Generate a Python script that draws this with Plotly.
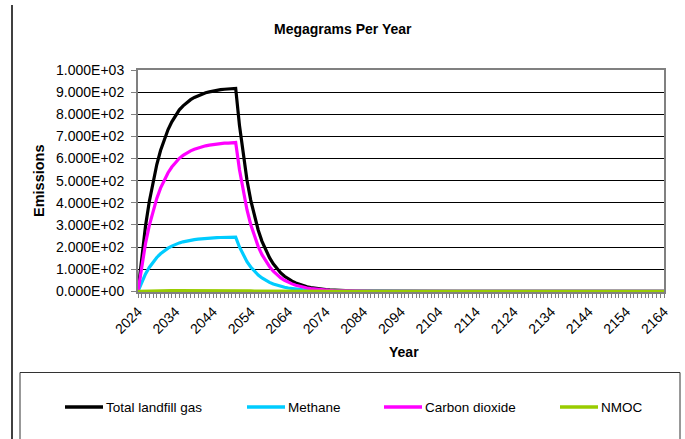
import plotly.graph_objects as go

# ---------------- data ----------------
years = list(range(2024, 2165))

total_landfill_gas = [
    0, 160, 295, 405, 497, 573, 636, 688, 731, 766,            # 2024-2033
    795, 820, 838, 854, 866, 876, 884, 891, 897, 901,          # 2034-2043
    905, 908, 911, 913, 914, 916, 917, 751, 615, 503,          # 2044-2053
    412, 337, 276, 226, 185, 152, 124, 102, 83, 68,            # 2054-2063
    56, 46, 37.5, 30.7, 25.2, 20.6, 16.9, 13.8, 11.3, 9.3,     # 2064-2073
    7.6, 6.2, 5.1, 4.2, 3.4, 2.8, 2.3, 1.9, 1.5, 1.2,          # 2074-2083
    1.0, 0.84, 0.69, 0.56, 0.46, 0.38, 0.31, 0.25, 0.21, 0.17, # 2084-2093
    0.14, 0.11, 0.09, 0.08, 0.06, 0.05, 0.04, 0.03, 0.03, 0.02,# 2094-2103
    0.02, 0.02, 0.01, 0.01, 0.01, 0.01, 0.01, 0, 0, 0,         # 2104-2113
    0, 0, 0, 0, 0, 0, 0, 0, 0, 0,                              # 2114-2123
    0, 0, 0, 0, 0, 0, 0, 0, 0, 0,                              # 2124-2133
    0, 0, 0, 0, 0, 0, 0, 0, 0, 0,                              # 2134-2143
    0, 0, 0, 0, 0, 0, 0, 0, 0, 0,                              # 2144-2153
    0, 0, 0, 0, 0, 0, 0, 0, 0, 0,                              # 2154-2163
    0,                                                         # 2164
]

methane = [
    0, 42.7, 78.8, 108.1, 132.7, 153.0, 169.8, 183.7, 195.2, 204.5,
    212.3, 218.9, 223.7, 228.0, 231.2, 233.9, 236.0, 237.9, 239.5, 240.6,
    241.6, 242.4, 243.2, 243.8, 244.0, 244.6, 244.8, 200.5, 164.2, 134.3,
    110.0, 90.0, 73.7, 60.3, 49.4, 40.6, 33.1, 27.2, 22.2, 18.2,
    15.0, 12.3, 10.0, 8.2, 6.7, 5.5, 4.5, 3.7, 3.0, 2.5,
    2.0, 1.66, 1.36, 1.12, 0.91, 0.75, 0.61, 0.51, 0.40, 0.32,
    0.27, 0.22, 0.18, 0.15, 0.12, 0.10, 0.08, 0.07, 0.06, 0.05,
    0.04, 0.03, 0.02, 0.02, 0.02, 0.01, 0.01, 0.01, 0.01, 0.01,
    0.01, 0, 0, 0, 0, 0, 0, 0, 0, 0,
    0, 0, 0, 0, 0, 0, 0, 0, 0, 0,
    0, 0, 0, 0, 0, 0, 0, 0, 0, 0,
    0, 0, 0, 0, 0, 0, 0, 0, 0, 0,
    0, 0, 0, 0, 0, 0, 0, 0, 0, 0,
    0, 0, 0, 0, 0, 0, 0, 0, 0, 0,
    0,
]

carbon_dioxide = [
    0, 117.3, 216.2, 296.9, 364.3, 420.0, 466.2, 504.3, 535.8, 561.5,
    582.7, 601.1, 614.3, 626.0, 634.8, 642.1, 648.0, 653.1, 657.5, 660.4,
    663.4, 665.6, 667.8, 669.2, 670.0, 671.4, 672.2, 550.5, 450.8, 368.7,
    302.0, 247.0, 202.3, 165.7, 135.6, 111.4, 90.9, 74.8, 60.8, 49.8,
    41.0, 33.7, 27.5, 22.5, 18.5, 15.1, 12.4, 10.1, 8.3, 6.8,
    5.6, 4.54, 3.74, 3.08, 2.49, 2.05, 1.69, 1.39, 1.10, 0.88,
    0.73, 0.62, 0.51, 0.41, 0.34, 0.28, 0.23, 0.18, 0.15, 0.12,
    0.10, 0.08, 0.07, 0.06, 0.04, 0.04, 0.03, 0.02, 0.02, 0.01,
    0.01, 0.01, 0.01, 0.01, 0.01, 0.01, 0, 0, 0, 0,
    0, 0, 0, 0, 0, 0, 0, 0, 0, 0,
    0, 0, 0, 0, 0, 0, 0, 0, 0, 0,
    0, 0, 0, 0, 0, 0, 0, 0, 0, 0,
    0, 0, 0, 0, 0, 0, 0, 0, 0, 0,
    0, 0, 0, 0, 0, 0, 0, 0, 0, 0,
    0,
]

nmoc = [
    0, 0.7, 1.3, 1.7, 2.1, 2.5, 2.7, 3.0, 3.1, 3.3,
    3.4, 3.5, 3.6, 3.7, 3.7, 3.8, 3.8, 3.8, 3.9, 3.9,
    3.9, 3.9, 3.9, 3.9, 3.9, 3.9, 3.9, 3.2, 2.6, 2.2,
    1.8, 1.4, 1.2, 1.0, 0.8, 0.65, 0.53, 0.44, 0.36, 0.29,
    0.24, 0.20, 0.16, 0.13, 0.11, 0.09, 0.07, 0.06, 0.05, 0.04,
    0.03, 0.03, 0.02, 0.02, 0.01, 0.01, 0.01, 0, 0, 0,
    0, 0, 0, 0, 0, 0, 0, 0, 0, 0,
    0, 0, 0, 0, 0, 0, 0, 0, 0, 0,
    0, 0, 0, 0, 0, 0, 0, 0, 0, 0,
    0, 0, 0, 0, 0, 0, 0, 0, 0, 0,
    0, 0, 0, 0, 0, 0, 0, 0, 0, 0,
    0, 0, 0, 0, 0, 0, 0, 0, 0, 0,
    0, 0, 0, 0, 0, 0, 0, 0, 0, 0,
    0, 0, 0, 0, 0, 0, 0, 0, 0, 0,
    0,
]

series_names = ["Total landfill gas", "Methane", "Carbon dioxide", "NMOC"]
series_colors = ["#000000", "#00CCFF", "#FF00FF", "#99CC00"]

x_tick_values = [2024, 2034, 2044, 2054, 2064, 2074, 2084, 2094,
                 2104, 2114, 2124, 2134, 2144, 2154, 2164]
y_tick_values = [0, 100, 200, 300, 400, 500, 600, 700, 800, 900, 1000]
y_tick_labels = ["0.000E+00", "1.000E+02", "2.000E+02", "3.000E+02",
                 "4.000E+02", "5.000E+02", "6.000E+02", "7.000E+02",
                 "8.000E+02", "9.000E+02", "1.000E+03"]

chart_title = "Megagrams Per Year"
x_title = "Year"
y_title = "Emissions"

# ---------------- layout geometry (pixels) ----------------
W, H = 685, 439
PL, PR, PT, PB = 138, 664, 70, 292   # plot area edges

def px(xp):
    return (xp - PL) / (PR - PL)

def py(yp):
    return (PB - yp) / (PB - PT)

FONT = "Liberation Sans, Arial, sans-serif"

all_series = [total_landfill_gas, methane, carbon_dioxide, nmoc]
for s in all_series:
    assert len(s) == len(years), len(s)

fig = go.Figure()
for name, vals, col in zip(series_names, all_series, series_colors):
    fig.add_trace(go.Scatter(
        x=years, y=vals, mode="lines", name=name,
        line=dict(color=col, width=3.2), showlegend=False,
        hoverinfo="x+y+name",
    ))

shapes = []
annotations = []

# left border line of chart area
shapes.append(dict(type="line", xref="paper", yref="paper",
                   x0=px(12), x1=px(12), y0=py(5), y1=py(445),
                   line=dict(color="#000000", width=1.5)))
# legend box
shapes.append(dict(type="rect", xref="paper", yref="paper",
                   x0=px(20), x1=px(680), y0=py(372.5), y1=py(450),
                   line=dict(color="#333333", width=1), fillcolor="rgba(0,0,0,0)"))

legend_y = 407
legend_pos = [(65, 103), (247, 285), (384, 422), (560, 598)]
for (x0, x1), name, col in zip(legend_pos, series_names, series_colors):
    shapes.append(dict(type="line", xref="paper", yref="paper",
                       x0=px(x0), x1=px(x1), y0=py(legend_y), y1=py(legend_y),
                       line=dict(color=col, width=3.5)))
    annotations.append(dict(xref="paper", yref="paper", x=px(x1 + 1), y=py(legend_y),
                            text=name, showarrow=False, xanchor="left", yanchor="middle",
                            font=dict(family=FONT, size=13.5, color="#000000")))

annotations.append(dict(xref="paper", yref="paper", x=px(343), y=py(29),
                        text="<b>%s</b>" % chart_title, showarrow=False,
                        xanchor="center", yanchor="middle",
                        font=dict(family=FONT, size=14, color="#000000")))
annotations.append(dict(xref="paper", yref="paper", x=px(404), y=py(352),
                        text="<b>%s</b>" % x_title, showarrow=False,
                        xanchor="center", yanchor="middle",
                        font=dict(family=FONT, size=14, color="#000000")))
annotations.append(dict(xref="paper", yref="paper", x=px(39), y=py(181),
                        text="<b>%s</b>" % y_title, showarrow=False, textangle=-90,
                        xanchor="center", yanchor="middle",
                        font=dict(family=FONT, size=14.5, color="#000000")))

fig.update_layout(
    width=W, height=H,
    margin=dict(l=PL, r=W - PR, t=PT, b=H - PB, pad=0),
    paper_bgcolor="#FFFFFF", plot_bgcolor="#FFFFFF",
    font=dict(family=FONT, size=14, color="#000000"),
    shapes=shapes, annotations=annotations,
    showlegend=False,
)

fig.update_xaxes(
    range=[2024, 2164], tickmode="array", tickvals=x_tick_values,
    ticktext=[str(v) for v in x_tick_values], tickangle=-45,
    tickfont=dict(family=FONT, size=14, color="#000000"),
    ticks="outside", ticklen=4, tickwidth=1, tickcolor="#808080",
    minor=dict(dtick=1, tick0=2024, ticks="outside", ticklen=4, tickwidth=1,
               tickcolor="#808080", showgrid=False),
    showgrid=False, zeroline=False,
    showline=True, mirror=True, linecolor="#808080", linewidth=2,
    layer="below traces",
)
fig.update_yaxes(
    range=[-3, 1000], tickmode="array", tickvals=y_tick_values,
    ticktext=y_tick_labels, ticklabelstandoff=4,
    tickfont=dict(family=FONT, size=14, color="#000000"),
    ticks="outside", ticklen=5, tickwidth=1, tickcolor="#808080",
    showgrid=True, gridcolor="#000000", gridwidth=1, zeroline=False,
    showline=True, mirror=True, linecolor="#808080", linewidth=2,
    layer="below traces",
)

fig.write_html("out.html",
               config={"displayModeBar": False},
               post_script="document.body.style.margin='0';document.body.style.overflow='hidden';")
